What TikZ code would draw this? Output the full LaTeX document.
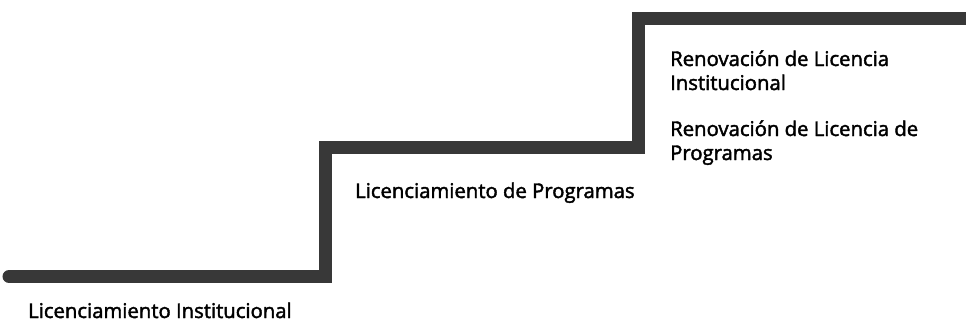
\documentclass[tikz,border=0pt]{standalone}
\usepackage{fontspec}
\setmainfont{Open Sans}[FakeBold=2]
\begin{document}
\begin{tikzpicture}[x=1bp,y=-1bp,
  stair/.style={line width=13bp,draw=black!78,line join=miter},
  lbl/.style={anchor=base west,inner sep=0pt,font=\fontsize{20.3bp}{24bp}\selectfont,text=black}]
\useasboundingbox (0,0) rectangle (966,324);
\coordinate (s0) at (9,276.5);
\coordinate (s1) at (325,276.5);
\coordinate (s2) at (325,147.5);
\coordinate (s3) at (638.5,147.5);
\coordinate (s4) at (638.5,18);
\coordinate (s5) at (972,18);
\draw[stair,line cap=round] (s0) -- (s1) -- (s2) -- (s3) -- (s4) -- (s5);
\node[lbl] (a) at (28,318) {Licenciamiento Institucional};
\node[lbl] (b) at (355,198) {Licenciamiento de Programas};
\node[lbl] (c) at (670,66) {Renovación de Licencia};
\node[lbl] (d) at (670,90) {Institucional};
\node[lbl] (e) at (670,136) {Renovación de Licencia de};
\node[lbl] (f) at (670,160) {Programas};
\end{tikzpicture}
\end{document}
